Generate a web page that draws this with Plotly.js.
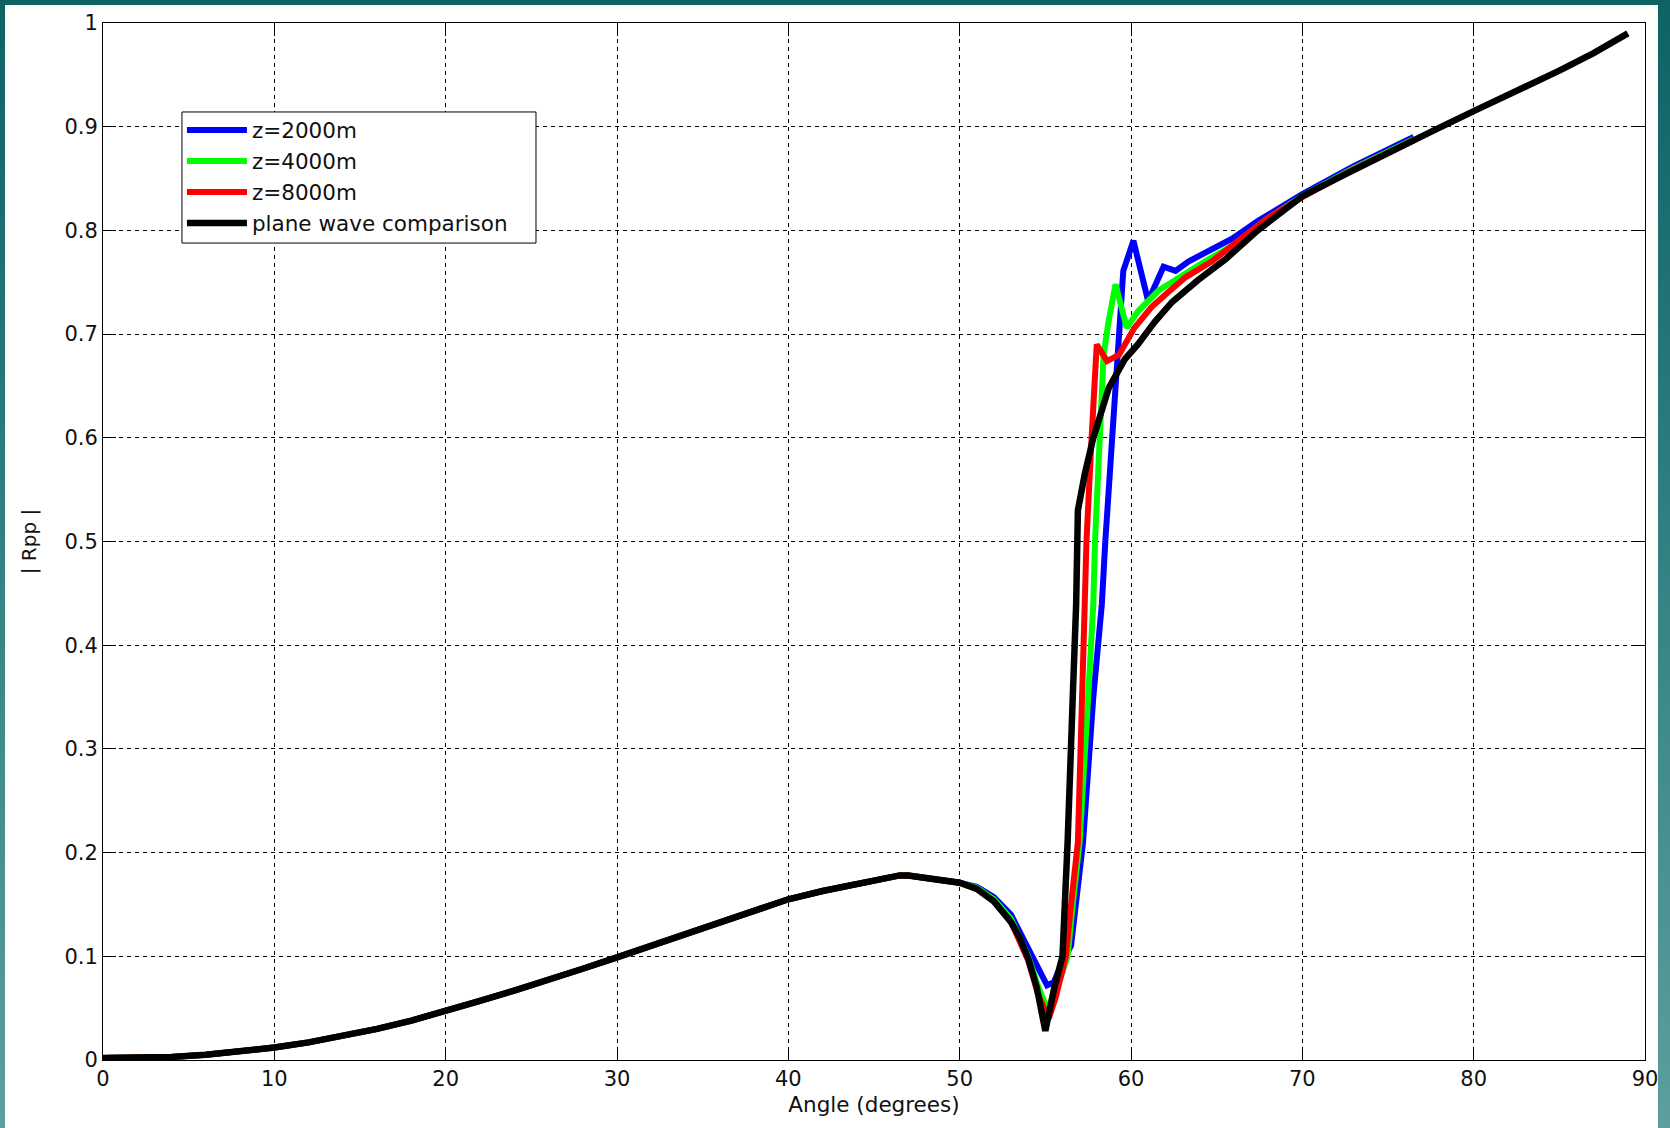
<!DOCTYPE html>
<html>
<head>
<meta charset="utf-8">
<script src="https://cdn.plot.ly/plotly-3.0.1.min.js"></script>
<style>
  html, body { margin: 0; padding: 0; width: 1670px; height: 1128px; overflow: hidden;
    background: linear-gradient(180deg, #0d6262 0%, #2f7f80 45%, #5e9e9e 100%); }
  #chart { position: absolute; left: 5px; top: 5px; width: 1653px; height: 1123px; background: #fff; }
</style>
</head>
<body>
<div id="chart"></div>
<script>
// ---- data ----
const seriesNames = ["z=2000m", "z=4000m", "z=8000m", "plane wave comparison"];

const commonAngle = [0,2,4,6,8,10,12,14,16,18,20,22,24,26,28,30,32,34,36,38,40,42,44,45,46,46.5,47,48,49,50];
const commonRpp   = [0.002,0.002,0.003,0.005,0.008,0.012,0.017,0.023,0.030,0.038,0.047,0.057,0.067,0.077,0.088,0.099,0.110,0.121,0.132,0.144,0.155,0.163,0.170,0.173,0.176,0.178,0.178,0.176,0.174,0.171];

// z = 2000 m (blue)
const angle2000 = [51,52,53,54,54.6,55.1,55.5,56.0,56.5,56.8,57.2,57.8,58.3,58.5,58.9,59.1,59.55,60.14,61.0,61.9,62.6,63.35,64.7,65.9,67.4,70,73,76.5];
const rpp2000   = [0.167,0.157,0.140,0.108,0.087,0.072,0.075,0.095,0.110,0.150,0.210,0.350,0.440,0.500,0.600,0.660,0.761,0.790,0.732,0.765,0.761,0.770,0.782,0.792,0.809,0.835,0.862,0.890];

// z = 4000 m (green)
const angle4000 = [51,52,53,54,54.6,55.1,55.6,56.3,56.6,57.0,57.5,57.8,57.9,58.2,58.4,58.7,59.1,59.75,60.4,61.6,62.8,64.3,65.9,68,70,73,76.5];
const rpp4000   = [0.166,0.155,0.136,0.100,0.070,0.050,0.065,0.100,0.150,0.210,0.350,0.440,0.500,0.600,0.680,0.713,0.748,0.706,0.722,0.742,0.755,0.770,0.785,0.812,0.833,0.860,0.888];

// z = 8000 m (red)
const angle8000 = [51,52,53,54,54.6,55.2,55.6,56.2,56.5,56.9,57.3,57.4,57.7,57.85,58.0,58.6,59.3,60.2,61.2,62.0,63.2,64.7,66.3,68,70,73,76.5];
const rpp8000   = [0.165,0.153,0.133,0.096,0.062,0.040,0.060,0.100,0.150,0.210,0.440,0.500,0.600,0.655,0.690,0.674,0.680,0.706,0.726,0.738,0.755,0.770,0.790,0.812,0.832,0.859,0.887];

// plane wave comparison (black)
const anglePlane = [51,52,53,53.5,54,54.5,55,55.5,56.0,56.1,56.3,56.6,56.8,56.9,57.3,57.8,58.7,59.65,60.4,61.4,62.4,63.9,65.5,67.4,70,72.5,75,77.5,80,82.5,85,87,89];
const rppPlane   = [0.165,0.153,0.133,0.118,0.098,0.070,0.028,0.068,0.100,0.130,0.210,0.350,0.440,0.530,0.565,0.600,0.648,0.676,0.690,0.712,0.731,0.752,0.772,0.800,0.833,0.854,0.875,0.895,0.915,0.934,0.954,0.971,0.990];

const xTicks = [0,10,20,30,40,50,60,70,80,90];
const yTicks = [0,0.1,0.2,0.3,0.4,0.5,0.6,0.7,0.8,0.9,1];
const xTickText = ["0","10","20","30","40","50","60","70","80","90"];
const yTickText = ["0","0.1","0.2","0.3","0.4","0.5","0.6","0.7","0.8","0.9","1"];

const colors = ["#0000ff", "#00ff00", "#ff0000", "#000000"];
const xs = [angle2000, angle4000, angle8000, anglePlane];
const ys = [rpp2000, rpp4000, rpp8000, rppPlane];

const FONT = "DejaVu Sans, Verdana, sans-serif";

const traces = seriesNames.map((name, i) => ({
  type: "scatter",
  mode: "lines",
  name: name,
  x: commonAngle.concat(xs[i]),
  y: commonRpp.concat(ys[i]),
  line: { color: colors[i], width: i === 3 ? 6.5 : 6 },
  hoverinfo: "skip"
}));

const axisCommon = {
  showline: true, linecolor: "#000", linewidth: 1, mirror: "ticks",
  ticks: "inside", ticklen: 13, tickwidth: 1, tickcolor: "#000",
  showgrid: true, gridcolor: "#000", gridwidth: 1, griddash: "4px,4px",
  zeroline: false, tickfont: { family: FONT, size: 21, color: "#111" },
  automargin: false, fixedrange: true, ticklabeloverflow: "allow"
};

const layout = {
  width: 1653, height: 1123,
  margin: { l: 98, r: 13, t: 18, b: 68, pad: 0 },
  paper_bgcolor: "#ffffff", plot_bgcolor: "#ffffff",
  showlegend: true,
  xaxis: Object.assign({}, axisCommon, {
    range: [0, 90], tickmode: "array", tickvals: xTicks, ticktext: xTickText,
    title: { text: "Angle (degrees)", font: { family: FONT, size: 21.5, color: "#111" }, standoff: 6 }
  }),
  yaxis: Object.assign({}, axisCommon, {
    range: [0, 1], tickmode: "array", tickvals: yTicks, ticktext: yTickText,
    title: { text: "| Rpp |", font: { family: FONT, size: 20, color: "#111" }, standoff: 22 }
  }),
  // legend frame (box behind the legend entries)
  shapes: [{
    type: "rect", xref: "paper", yref: "paper", layer: "above",
    x0: 0.0512, x1: 0.2808, y0: 0.7878, y1: 0.9142,
    fillcolor: "#ffffff", line: { color: "#000", width: 1 }
  }],
  legend: {
    x: 0.0512, y: 0.9165, xanchor: "left", yanchor: "top",
    bgcolor: "rgba(0,0,0,0)", borderwidth: 0,
    font: { family: FONT, size: 21.5, color: "#111" },
    itemwidth: 60, tracegroupgap: 0
  }
};

Plotly.newPlot("chart", traces, layout, { staticPlot: true, displayModeBar: false });
</script>
</body>
</html>
